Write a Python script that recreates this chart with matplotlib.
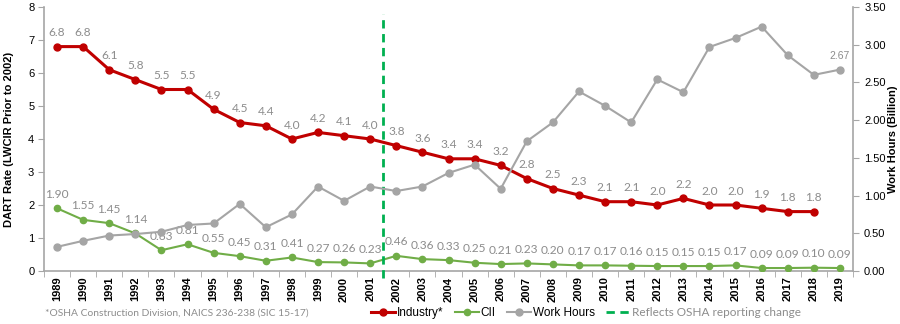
import matplotlib
matplotlib.use("Agg")
import matplotlib.pyplot as plt
from matplotlib.lines import Line2D
import numpy as np

years = list(range(1989, 2020))
industry = [6.8, 6.8, 6.1, 5.8, 5.5, 5.5, 4.9, 4.5, 4.4, 4.0, 4.2, 4.1, 4.0, 3.8, 3.6,
            3.4, 3.4, 3.2, 2.8, 2.5, 2.3, 2.1, 2.1, 2.0, 2.2, 2.0, 2.0, 1.9, 1.8, 1.8]
cii = [1.90, 1.55, 1.45, 1.14, 0.63, 0.81, 0.55, 0.45, 0.31, 0.41, 0.27, 0.26, 0.23, 0.46,
       0.36, 0.33, 0.25, 0.21, 0.23, 0.20, 0.17, 0.17, 0.16, 0.15, 0.15, 0.15, 0.17, 0.09,
       0.09, 0.10, 0.09]
work_hours = [0.32, 0.40, 0.47, 0.49, 0.52, 0.61, 0.63, 0.89, 0.58, 0.75, 1.12, 0.93, 1.12,
              1.06, 1.12, 1.30, 1.41, 1.09, 1.72, 1.97, 2.38, 2.19, 1.97, 2.54, 2.37, 2.97,
              3.09, 3.24, 2.86, 2.60, 2.67]
reporting_change_after = 2001

RED = "#C00000"
GREEN = "#70AD47"
GRAY = "#A5A5A5"
DASH = "#00B050"
LBL = "#8C8C8C"
AX = "#A6A6A6"

fig = plt.figure(figsize=(9, 3.24), dpi=100)
ax = fig.add_axes([44/900, 1-271/324, (853-44)/900, (271-7)/324])
ax2 = ax.twinx()

x = np.arange(len(years))
xi = np.arange(len(industry))

ax.plot(xi, industry, color=RED, lw=2.2, marker="o", ms=5, zorder=5)
ax.plot(x, cii, color=GREEN, lw=1.5, marker="o", ms=4.5, zorder=4)
ax2.plot(x, work_hours, color=GRAY, lw=1.5, marker="o", ms=5, zorder=3)

for xx, v in zip(xi, industry):
    ax.annotate(f"{v:.1f}", (xx, v), xytext=(0, 10), textcoords="offset points",
                ha="center", va="center", color=LBL, fontsize=8.6, family="Lato")
for xx, v in zip(x, cii):
    ax.annotate(f"{v:.2f}", (xx, v), xytext=(0, 10), textcoords="offset points",
                ha="center", va="center", color=LBL, fontsize=8.6, family="Lato")
ax2.annotate(f"{work_hours[-1]:.2f}", (x[-1], work_hours[-1]), xytext=(0, 10),
             textcoords="offset points", ha="center", va="center", color=LBL,
             fontsize=7.5, family="Liberation Sans")

xc = years.index(reporting_change_after) + 0.5
ax.plot([xc, xc], [-0.2, 7.8], color=DASH, lw=2, ls=(0, (3, 2)), clip_on=False, zorder=6)

ax.set_xlim(-0.5, len(years) - 0.5)
ax.set_ylim(0, 8)
ax2.set_ylim(0, 3.5)
ax.set_xticks(x)
ax.set_xticklabels([str(y) for y in years], rotation=90, fontsize=8,
                   fontweight="bold", family="Liberation Sans")
ax.set_xticks(np.arange(-0.5, len(years), 1), minor=True)
ax.tick_params(axis="x", which="major", length=0, pad=4)
ax.tick_params(axis="x", which="minor", length=4, color=AX, direction="out")
ax.set_yticks(range(0, 9))
ax.tick_params(axis="y", length=4, color=AX, labelsize=8, pad=3)
for t in ax.get_yticklabels():
    t.set_family("Liberation Sans")
ax2.set_yticks(np.arange(0, 3.51, 0.5))
ax2.set_yticklabels([f"{v:.2f}" for v in np.arange(0, 3.51, 0.5)], family="Liberation Sans",
                    fontsize=8)
ax2.tick_params(axis="y", length=4, color=AX, pad=4)

for a in (ax, ax2):
    a.spines["top"].set_visible(False)
    for s in ("left", "right", "bottom"):
        a.spines[s].set_color(AX)
        a.spines[s].set_linewidth(1.2)
ax.spines["right"].set_visible(False)
ax2.spines["left"].set_visible(False)
ax2.spines["bottom"].set_visible(False)

ax.set_ylabel("DART Rate (LWCIR Prior to 2002)", fontsize=8, fontweight="bold",
              family="Liberation Sans")
ax.yaxis.set_label_coords((14-44)/809, 0.5)
ax2.set_ylabel("Work Hours (Billion)", fontsize=8, fontweight="bold",
               family="Liberation Sans")
ax2.yaxis.set_label_coords((888-44)/809, 0.5)

fig.text(45/900, 1-313/324, "*OSHA Construction Division, NAICS 236-238 (SIC 15-17)",
         color=LBL, fontsize=7.4, family="Lato", va="center", ha="left")

handles = [
    Line2D([], [], color=RED, lw=2.2, marker="o", ms=5),
    Line2D([], [], color=GREEN, lw=1.5, marker="o", ms=4.5),
    Line2D([], [], color=GRAY, lw=1.5, marker="o", ms=5),
    Line2D([], [], color=DASH, lw=2, ls=(0, (3, 2))),
]
labels = ["Industry*", "CII", "Work Hours", "Reflects OSHA reporting change"]
leg = fig.legend(handles, labels, loc="center", bbox_to_anchor=(586/900, 1-313/324),
                 ncol=4, frameon=False, handlelength=2.0, handletextpad=0.15,
                 columnspacing=1.0, prop={"family": "Liberation Sans", "size": 8.5})
for t in leg.get_texts()[-1:]:
    t.set_color(LBL)
    t.set_family("Lato")

fig.savefig("out.png", dpi=100)
